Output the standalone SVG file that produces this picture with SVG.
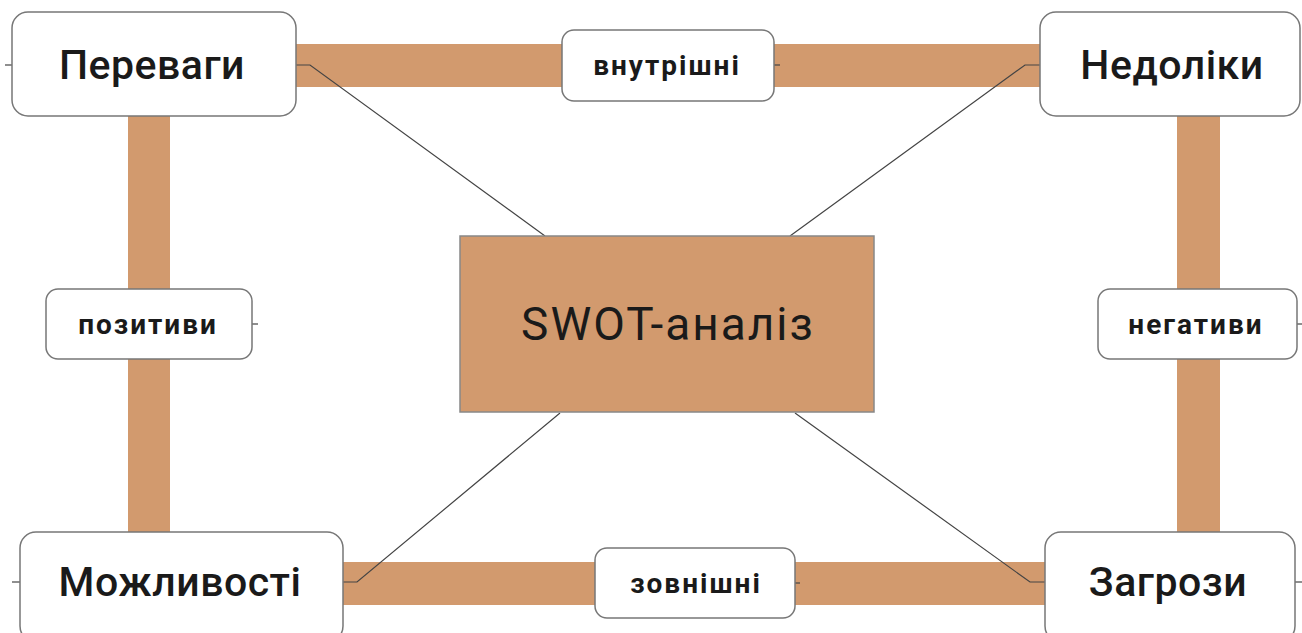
<svg xmlns="http://www.w3.org/2000/svg" width="1302" height="633" viewBox="0 0 1302 633">
<style>
.bar{fill:#D29A6E}
.box{fill:#fff;stroke:#777;stroke-width:1.5}
.lbl{fill:#fff;stroke:#777;stroke-width:1.5}
.ln{fill:none;stroke:#444;stroke-width:1.2}
.t{font-family:Roboto,"Liberation Sans",sans-serif;fill:#1a1a1a;text-anchor:middle;dominant-baseline:central}
.big{font-size:41px;font-weight:500;letter-spacing:0.5px}
.small{font-size:28px;font-weight:700;letter-spacing:2px}
.ctr{font-size:46px;letter-spacing:2px}
</style>
<rect width="1302" height="633" fill="#fff"/>
<g id="bars">
<rect class="bar" x="296" y="44" width="746" height="43"/>
<rect class="bar" x="128" y="116" width="42" height="418"/>
<rect class="bar" x="1177" y="116" width="43" height="418"/>
<rect class="bar" x="343" y="562" width="704" height="43"/>
</g>
<g id="connectors">
<polyline class="ln" points="296,65 310,65 545,236"/>
<polyline class="ln" points="1040,65 1025,65 790,236"/>
<polyline class="ln" points="343,582 357,582 560,413"/>
<polyline class="ln" points="1045,582 1030,582 795,413"/>
<line class="ln" x1="5" y1="65" x2="12" y2="65"/>
<line class="ln" x1="12" y1="582" x2="20" y2="582"/>
<line class="ln" x1="1295" y1="582" x2="1302" y2="582"/>
<line class="ln" x1="252" y1="324" x2="258" y2="324"/>
<line class="ln" x1="1297" y1="324" x2="1302" y2="324"/>
<line class="ln" x1="774" y1="65" x2="780" y2="65"/>
<line class="ln" x1="795" y1="583" x2="800" y2="583"/>
</g>
<g id="center">
<rect x="460" y="236" width="414" height="176" fill="#D29A6E" stroke="#888" stroke-width="1.5"/>
<text class="t ctr" x="668" y="324">SWOT-аналіз</text>
</g>
<g id="perevahy">
<rect class="box" x="12" y="12" width="284" height="104" rx="16"/>
<text class="t big" x="152" y="65">Переваги</text>
</g>
<g id="nedoliky">
<rect class="box" x="1040" y="12" width="260" height="104" rx="16"/>
<text class="t big" x="1172" y="65">Недоліки</text>
</g>
<g id="mozhlyvosti">
<rect class="box" x="20" y="532" width="323" height="110" rx="16"/>
<text class="t big" x="180" y="582">Можливості</text>
</g>
<g id="zahrozy">
<rect class="box" x="1045" y="532" width="250" height="110" rx="16"/>
<text class="t big" x="1168" y="582">Загрози</text>
</g>
<g id="vnutrishni">
<rect class="lbl" x="562" y="30" width="212" height="71" rx="12"/>
<text class="t small" x="667" y="65">внутрішні</text>
</g>
<g id="zovnishni">
<rect class="lbl" x="595" y="548" width="200" height="70" rx="12"/>
<text class="t small" x="696" y="583">зовнішні</text>
</g>
<g id="pozytyvy">
<rect class="lbl" x="46" y="289" width="206" height="70" rx="12"/>
<text class="t small" x="148" y="324">позитиви</text>
</g>
<g id="nehatyvy">
<rect class="lbl" x="1098" y="289" width="199" height="70" rx="12"/>
<text class="t small" x="1196" y="324">негативи</text>
</g>
</svg>
